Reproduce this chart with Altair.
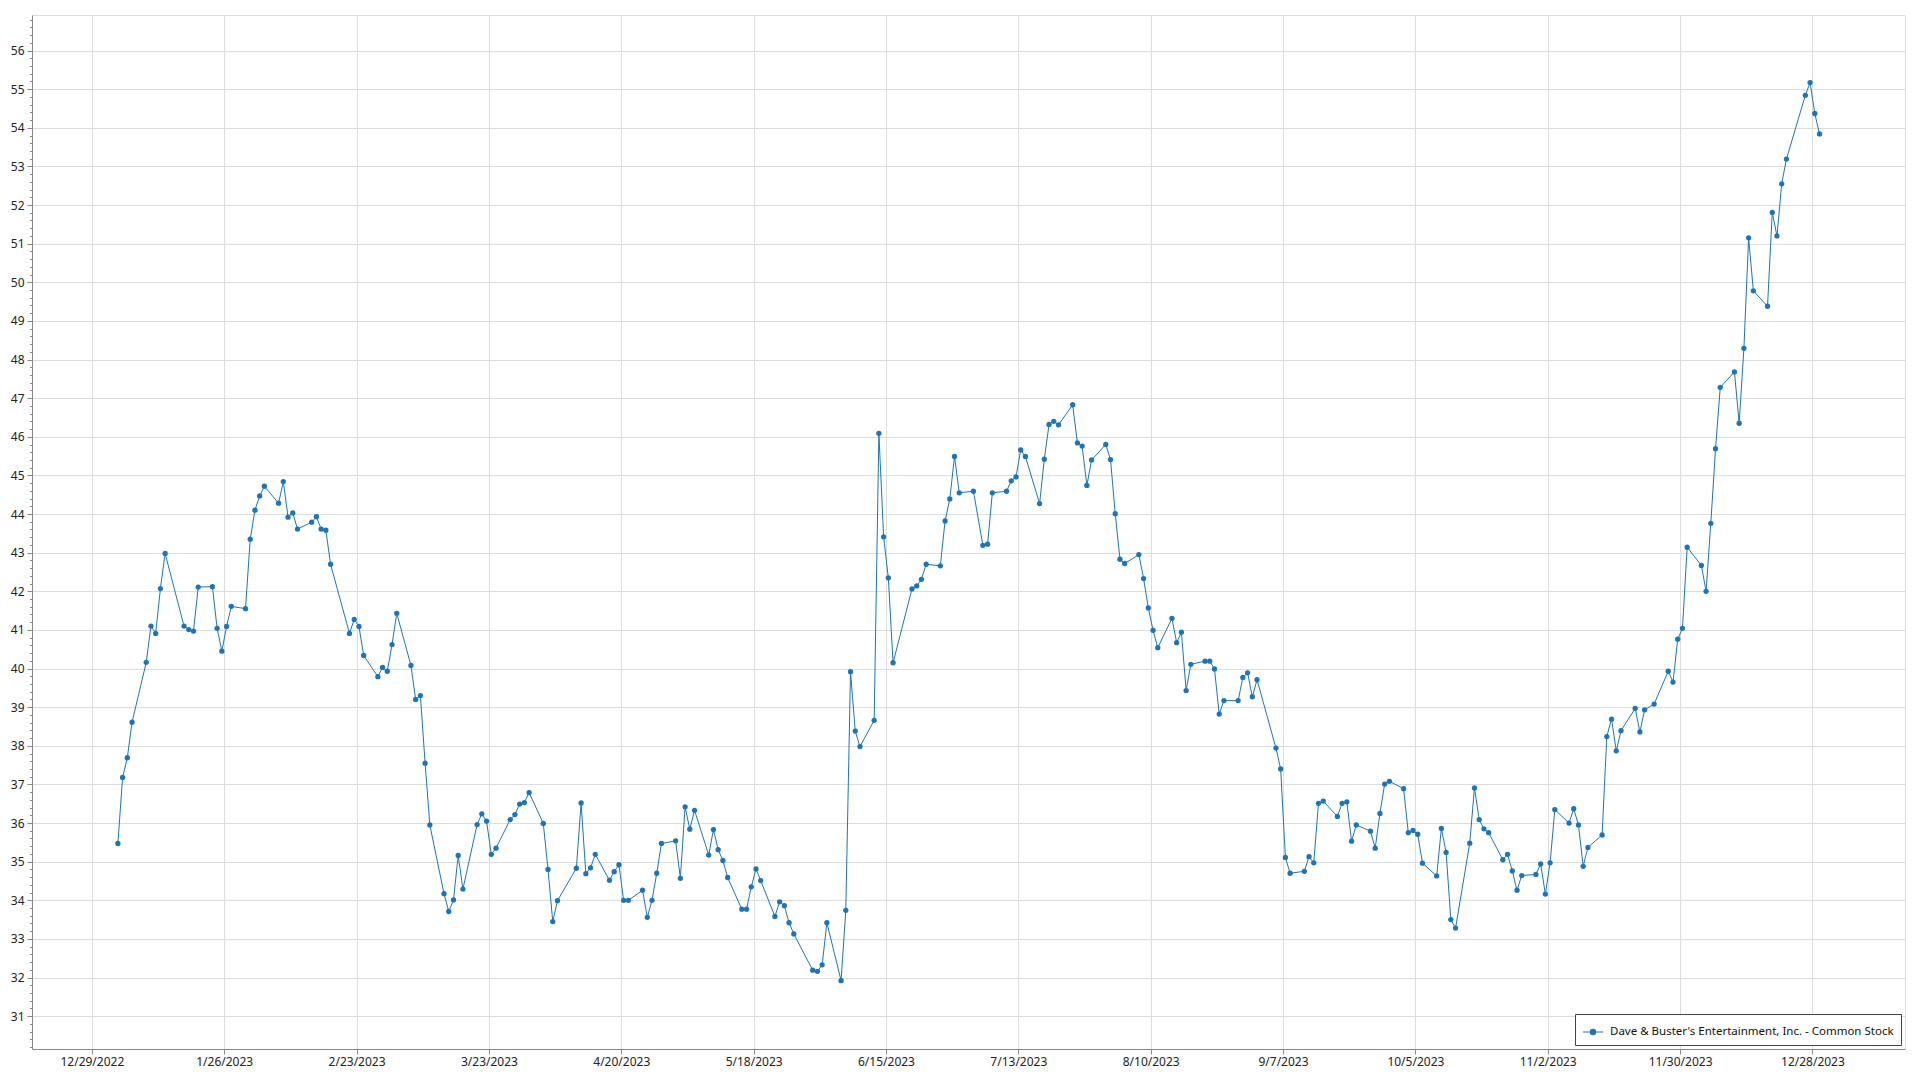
import altair as alt
import pandas as pd

SERIES_NAME = "Dave & Buster's Entertainment, Inc. - Common Stock"
LINE_COLOR = "#1f74b4"
FONT = "Noto Sans"

# Trading days (day-of-month) and closing prices, month by month (2023)
JAN_DAYS = [3, 4, 5, 6, 9, 10, 11, 12, 13, 17, 18, 19, 20, 23, 24, 25, 26, 27, 30, 31]
JAN_PRICES = [35.47, 37.18, 37.69, 38.61, 40.16, 41.10, 40.91, 42.07, 42.98, 41.10,
              41.01, 40.97, 42.11, 42.12, 41.04, 40.45, 41.09, 41.61, 41.55, 43.35]

FEB_DAYS = [1, 2, 3, 6, 7, 8, 9, 10, 13, 14, 15, 16, 17, 21, 22, 23, 24, 27, 28]
FEB_PRICES = [44.10, 44.47, 44.72, 44.28, 44.84, 43.92, 44.03, 43.61, 43.79, 43.93,
              43.61, 43.58, 42.70, 40.91, 41.27, 41.09, 40.34, 39.79, 40.03]

MAR_DAYS = [1, 2, 3, 6, 7, 8, 9, 10, 13, 14, 15, 16, 17, 20, 21, 22, 23, 24, 27, 28, 29, 30, 31]
MAR_PRICES = [39.93, 40.62, 41.43, 40.08, 39.20, 39.30, 37.55, 35.95, 34.17, 33.71,
              34.01, 35.16, 34.29, 35.96, 36.24, 36.05, 35.19, 35.35, 36.09, 36.22,
              36.49, 36.53, 36.79]

APR_DAYS = [3, 4, 5, 6, 10, 11, 12, 13, 14, 17, 18, 19, 20, 21, 24, 25, 26, 27, 28]
APR_PRICES = [35.99, 34.80, 33.45, 33.99, 34.83, 36.52, 34.69, 34.84, 35.19, 34.52,
              34.74, 34.92, 34.00, 34.00, 34.26, 33.56, 34.00, 34.70, 35.47]

MAY_DAYS = [1, 2, 3, 4, 5, 8, 9, 10, 11, 12, 15, 16, 17, 18, 19, 22, 23, 24, 25, 26, 30, 31]
MAY_PRICES = [35.54, 34.57, 36.42, 35.84, 36.33, 35.17, 35.83, 35.31, 35.03, 34.59,
              33.77, 33.77, 34.35, 34.81, 34.51, 33.58, 33.96, 33.86, 33.42, 33.13,
              32.19, 32.16]

JUN_DAYS = [1, 2, 5, 6, 7, 8, 9, 12, 13, 14, 15, 16, 20, 21, 22, 23, 26, 27, 28, 29, 30]
JUN_PRICES = [32.33, 33.42, 31.92, 33.74, 39.92, 38.38, 37.98, 38.66, 46.09, 43.41,
              42.35, 40.15, 42.06, 42.14, 42.31, 42.70, 42.66, 43.82, 44.39, 45.49, 44.55]

JUL_DAYS = [3, 5, 6, 7, 10, 11, 12, 13, 14, 17, 18, 19, 20, 21, 24, 25, 26, 27, 28, 31]
JUL_PRICES = [44.59, 43.19, 43.22, 44.55, 44.59, 44.86, 44.96, 45.66, 45.49, 44.27,
              45.42, 46.32, 46.40, 46.31, 46.83, 45.84, 45.76, 44.74, 45.40, 45.80]

AUG_DAYS = [1, 2, 3, 4, 7, 8, 9, 10, 11, 14, 15, 16, 17, 18, 21, 22, 23, 24, 25, 28, 29, 30, 31]
AUG_PRICES = [45.41, 44.01, 42.83, 42.72, 42.95, 42.33, 41.57, 40.99, 40.54, 41.30,
              40.67, 40.94, 39.43, 40.11, 40.19, 40.19, 39.99, 38.82, 39.17, 39.17,
              39.77, 39.89, 39.27]

SEP_DAYS = [1, 5, 6, 7, 8, 11, 12, 13, 14, 15, 18, 19, 20, 21, 22, 25, 26, 27, 28, 29]
SEP_PRICES = [39.71, 37.94, 37.40, 35.11, 34.70, 34.75, 35.13, 34.97, 36.51, 36.57,
              36.17, 36.51, 36.55, 35.53, 35.95, 35.79, 35.35, 36.25, 37.01, 37.08]

OCT_DAYS = [2, 3, 4, 5, 6, 9, 10, 11, 12, 13, 16, 17, 18, 19, 20, 23, 24, 25, 26, 27, 30, 31]
OCT_PRICES = [36.89, 35.75, 35.81, 35.71, 34.96, 34.63, 35.86, 35.24, 33.50, 33.28,
              35.48, 36.91, 36.09, 35.85, 35.75, 35.05, 35.19, 34.76, 34.26, 34.64,
              34.67, 34.94]

NOV_DAYS = [1, 2, 3, 6, 7, 8, 9, 10, 13, 14, 15, 16, 17, 20, 21, 22, 24, 27, 28, 29, 30]
NOV_PRICES = [34.16, 34.97, 36.35, 36.00, 36.37, 35.95, 34.88, 35.37, 35.69, 38.24,
              38.69, 37.87, 38.39, 38.97, 38.36, 38.93, 39.08, 39.93, 39.65, 40.76, 41.04]

DEC_DAYS = [1, 4, 5, 6, 7, 8, 11, 12, 13, 14, 15, 18, 19, 20, 21, 22, 26, 27, 28, 29]
DEC_PRICES = [43.14, 42.67, 42.00, 43.76, 45.69, 47.28, 47.68, 46.35, 48.29, 51.15,
              49.78, 49.38, 51.81, 51.20, 52.55, 53.19, 54.84, 55.17, 54.37, 53.84]

MONTHS = [
    (1, JAN_DAYS, JAN_PRICES), (2, FEB_DAYS, FEB_PRICES), (3, MAR_DAYS, MAR_PRICES),
    (4, APR_DAYS, APR_PRICES), (5, MAY_DAYS, MAY_PRICES), (6, JUN_DAYS, JUN_PRICES),
    (7, JUL_DAYS, JUL_PRICES), (8, AUG_DAYS, AUG_PRICES), (9, SEP_DAYS, SEP_PRICES),
    (10, OCT_DAYS, OCT_PRICES), (11, NOV_DAYS, NOV_PRICES), (12, DEC_DAYS, DEC_PRICES),
]

# x-axis tick dates (every 4 weeks) and y-axis major ticks
X_TICKS = [(2022, 12, 29), (2023, 1, 26), (2023, 2, 23), (2023, 3, 23), (2023, 4, 20),
           (2023, 5, 18), (2023, 6, 15), (2023, 7, 13), (2023, 8, 10), (2023, 9, 7),
           (2023, 10, 5), (2023, 11, 2), (2023, 11, 30), (2023, 12, 28)]
Y_MAJOR = list(range(30, 57))
Y_MINOR_STEPS = [0.0, 0.2, 0.4, 0.6, 0.8]

rows = []
for m, days, prices in MONTHS:
    for d, p in zip(days, prices):
        rows.append({"date": f"2023-{m:02d}-{d:02d}T12:00:00", "price": p, "series": SERIES_NAME})
df = pd.DataFrame(rows)

y_values = [round(a + s, 1) for a in Y_MAJOR for s in Y_MINOR_STEPS if 30.15 <= a + s <= 56.92]
is_major = "abs(datum.value - round(datum.value)) < 0.01"

legend_symbol = "M-1,0L1,0M0.26,0A0.26,0.26,0,1,1,-0.26,0A0.26,0.26,0,1,1,0.26,0Z"

AXIS_LABEL_SIZE = 12
AXIS_LABEL_COLOR = "#222222"

x_enc = alt.X(
    "date:T",
    scale=alt.Scale(domain=[alt.DateTime(year=2022, month=12, date=16, hours=8),
                            alt.DateTime(year=2024, month=1, date=16, hours=14)], nice=False),
    axis=alt.Axis(
        title=None,
        values=[alt.DateTime(year=y, month=m, date=d) for (y, m, d) in X_TICKS],
        format="%-m/%-d/%Y",
        labelFlush=False,
        labelOverlap=False,
        tickSize=5,
        labelPadding=2,
        labelFont=FONT,
        labelFontSize=AXIS_LABEL_SIZE,
        labelColor=AXIS_LABEL_COLOR,
    ),
)
y_enc = alt.Y(
    "price:Q",
    scale=alt.Scale(domain=[30.15, 56.92], nice=False, zero=False),
    axis=alt.Axis(
        title=None,
        values=y_values,
        labelExpr=f"{is_major} ? format(datum.value, 'd') : ''",
        labelOverlap=False,
        labelFlush=False,
        tickSize={"condition": {"test": is_major, "value": 5}, "value": 2.5},
        gridOpacity={"condition": {"test": is_major, "value": 1}, "value": 0},
        labelPadding=3,
        labelFont=FONT,
        labelFontSize=AXIS_LABEL_SIZE,
        labelColor=AXIS_LABEL_COLOR,
    ),
)
color_enc = alt.Color(
    "series:N",
    scale=alt.Scale(domain=[SERIES_NAME], range=[LINE_COLOR]),
    legend=alt.Legend(
        title=None,
        orient="none",
        legendX=1543,
        legendY=999,
        symbolType=legend_symbol,
        symbolSize=400,
        symbolStrokeWidth=1.2,
        symbolFillColor=LINE_COLOR,
        symbolStrokeColor=LINE_COLOR,
        strokeColor="#444444",
        fillColor="white",
        padding=7,
        labelFontSize=11.5,
        labelFont=FONT,
        labelColor="#111111",
        labelOffset=6,
        labelLimit=0,
    ),
)

base = alt.Chart(df).encode(x=x_enc, y=y_enc, color=color_enc)
line = base.mark_line(strokeWidth=1)
pts = base.mark_point(filled=True, size=28, opacity=1)

chart = (
    alt.layer(line, pts)
    .properties(
        width=1873,
        height=1034,
        autosize=alt.AutoSizeParams(type="none"),
        padding={"left": 24, "top": 7, "right": 7, "bottom": 30},
    )
    .configure_view(stroke="black", strokeWidth=1)
    .configure_axis(
        domainColor="black",
        tickColor="black",
        gridColor="#e2e2e2",
        gridWidth=1,
    )
    .configure(background="white")
)

chart.save("out.html", embed_options={"renderer": "svg", "actions": False})
